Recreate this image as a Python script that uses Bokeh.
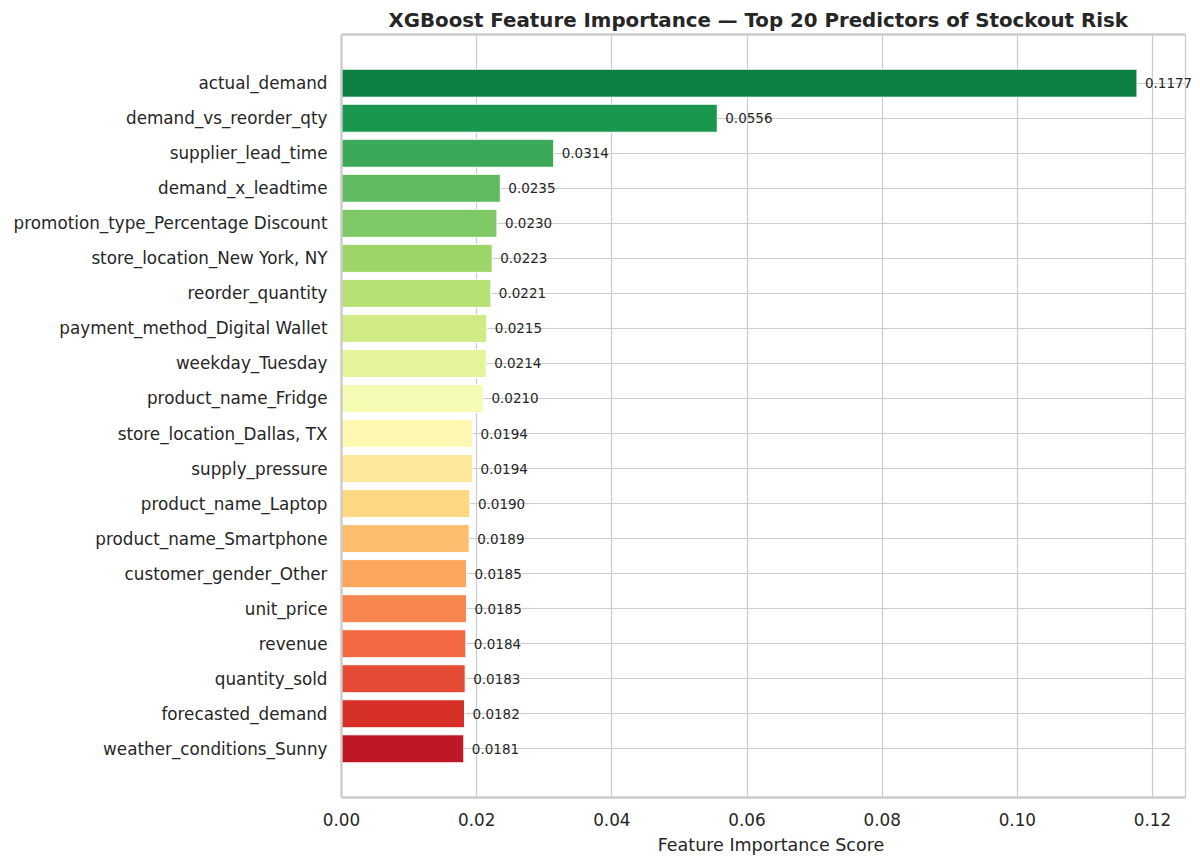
import numpy as np
from bokeh.plotting import figure
from bokeh.models import Range1d, FixedTicker, ColumnDataSource, NumeralTickFormatter, LabelSet
from bokeh.core.properties import value
from bokeh.embed import file_html
from bokeh.resources import INLINE

features = [
    "actual_demand", "demand_vs_reorder_qty", "supplier_lead_time", "demand_x_leadtime",
    "promotion_type_Percentage Discount", "store_location_New York, NY", "reorder_quantity",
    "payment_method_Digital Wallet", "weekday_Tuesday", "product_name_Fridge",
    "store_location_Dallas, TX", "supply_pressure", "product_name_Laptop",
    "product_name_Smartphone", "customer_gender_Other", "unit_price", "revenue",
    "quantity_sold", "forecasted_demand", "weather_conditions_Sunny",
]
importance = [
    0.1177, 0.0556, 0.0314, 0.0235, 0.0230, 0.0223, 0.0221, 0.0215, 0.0214, 0.0210,
    0.0194, 0.0194, 0.0190, 0.0189, 0.0185, 0.0185, 0.0184, 0.0183, 0.0182, 0.0181,
]
x_ticks = [0.0, 0.02, 0.04, 0.06, 0.08, 0.10, 0.12]

# RdYlGn colormap stops (styling)
_stops = ["#a50026", "#d73027", "#f46d43", "#fdae61", "#fee08b", "#ffffbf",
          "#d9ef8b", "#a6d96a", "#66bd63", "#1a9850", "#006837"]


def rdylgn(t):
    rgb = np.array([[int(c[i:i + 2], 16) for i in (1, 3, 5)] for c in _stops], float)
    pos = np.linspace(0, 1, len(_stops))
    r = np.interp(t, pos, rgb[:, 0]); g = np.interp(t, pos, rgb[:, 1]); b = np.interp(t, pos, rgb[:, 2])
    return "#%02x%02x%02x" % (int(round(r)), int(round(g)), int(round(b)))


n = len(features)
ypos = [n - 1 - i for i in range(n)]
colors = [rdylgn(t) for t in np.linspace(0.95, 0.05, n)]
labels = ["%.4f" % v for v in importance]

src = ColumnDataSource(dict(y=ypos, v=importance, c=colors, lab=labels))

TXT = "#262626"
FONT = "DejaVu Sans"
GRID = "#cccccc"

# axes box: data limits, and a frame that extends to the page edge so the top
# value label is not clipped (the box itself is drawn at XMAX)
XMAX = max(importance) * 1.061
YMIN, YMAX = -1.39, n - 1 + 1.39
LEFT, BOX_RIGHT, W = 341, 1185, 1200
x_end = XMAX * (W - LEFT) / (BOX_RIGHT - LEFT)

p = figure(width=W, height=864, output_backend="svg", toolbar_location=None,
           x_range=Range1d(0, x_end), y_range=Range1d(YMIN, YMAX),
           min_border_left=LEFT, min_border_right=0, min_border_top=34, min_border_bottom=67,
           title="XGBoost Feature Importance — Top 20 Predictors of Stockout Risk")
p.background_fill_color = "white"
p.border_fill_color = "white"
p.outline_line_color = None

p.title.align = "left"
p.title.offset = 47
p.title.text_font = FONT
p.title.text_font_size = "19.8px"
p.title.text_font_style = "bold"
p.title.text_color = TXT
p.title.standoff = 6

p.hbar(y="y", left=0, right="v", height=0.8, fill_color="c", line_color="white",
       line_width=1, source=src)

# white cover beyond the axes box, then the box (spines)
p.quad(left=[XMAX], right=[x_end], bottom=[YMIN], top=[YMAX], fill_color="white",
       line_color=None, level="guide")
p.segment(x0=[0, 0, 0, XMAX], y0=[YMIN, YMIN, YMAX, YMIN],
          x1=[0, XMAX, XMAX, XMAX], y1=[YMAX, YMIN, YMAX, YMAX],
          line_color=GRID, line_width=[2.4, 2.4, 2.4, 1.2], level="guide")

p.add_layout(LabelSet(x="v", y="y", text="lab", x_offset=8, text_baseline="middle",
                      text_align="left", text_font=value(FONT), text_font_size="13.5px",
                      text_color=TXT, source=src))

p.xaxis.ticker = FixedTicker(ticks=x_ticks)
p.xaxis.formatter = NumeralTickFormatter(format="0.00")
p.yaxis.ticker = FixedTicker(ticks=ypos)
p.yaxis.major_label_overrides = {y: f for y, f in zip(ypos, features)}

for ax in (p.xaxis[0], p.yaxis[0]):
    ax.axis_line_color = None
    ax.major_tick_line_color = None
    ax.minor_tick_line_color = None
    ax.major_tick_in = 0
    ax.major_tick_out = 0
    ax.major_label_text_font = FONT
    ax.major_label_text_font_size = "16.8px"
    ax.major_label_text_color = TXT

p.yaxis.major_label_standoff = 14
p.xaxis.major_label_standoff = 15
p.xaxis.axis_label = "Feature Importance Score"
p.xaxis.axis_label_text_font = FONT
p.xaxis.axis_label_text_font_size = "17.5px"
p.xaxis.axis_label_text_font_style = "normal"
p.xaxis.axis_label_text_color = TXT
p.xaxis.axis_label_standoff = 6

p.xgrid.grid_line_color = GRID
p.xgrid.grid_line_width = 1.2
p.ygrid.grid_line_color = GRID
p.ygrid.grid_line_width = 1.2

open("out.html", "w").write(file_html(p, INLINE))
